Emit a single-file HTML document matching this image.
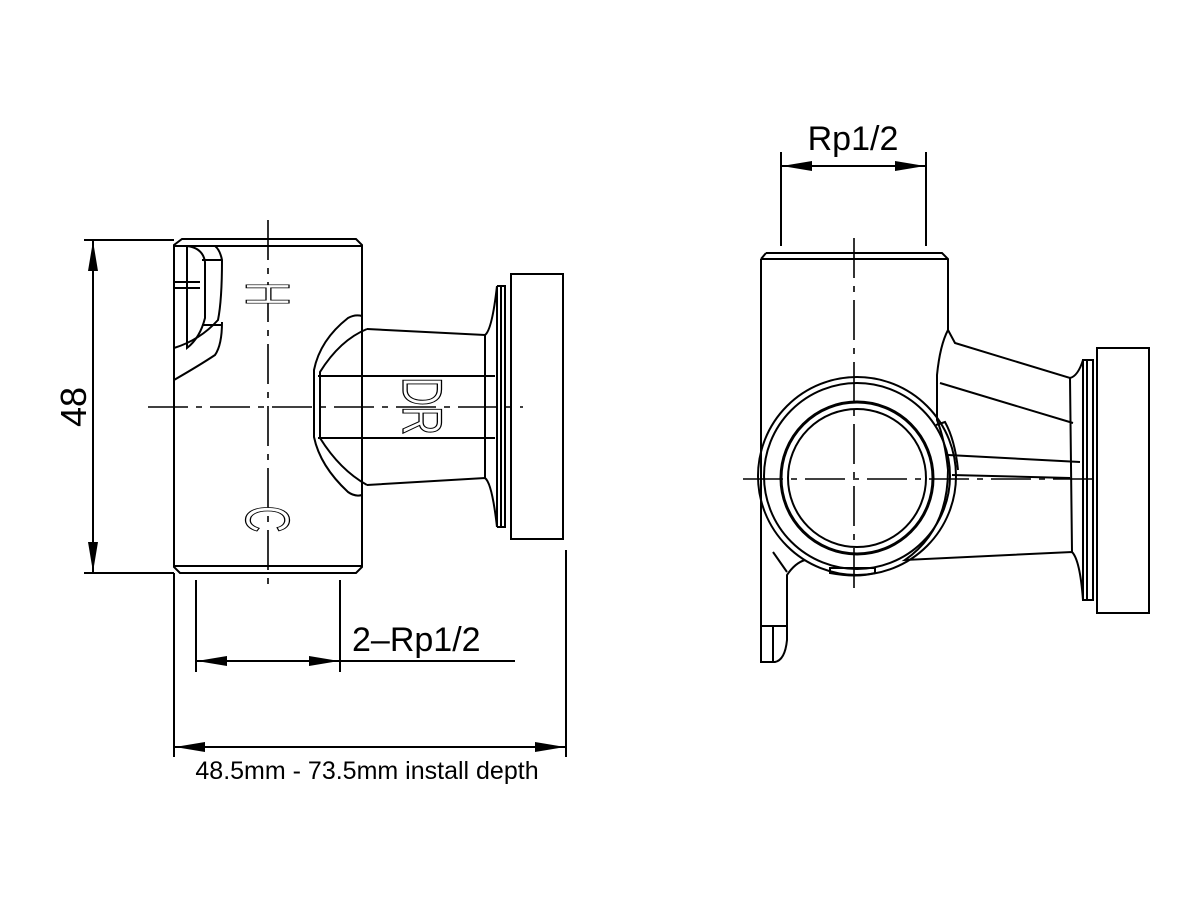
<!DOCTYPE html>
<html><head><style>body{margin:0;background:#fff}svg{display:block}</style></head><body>
<svg width="1200" height="900" viewBox="0 0 1200 900" xmlns="http://www.w3.org/2000/svg" fill="none" stroke="#000" stroke-width="2" font-family="Liberation Sans, sans-serif">
<defs>
<marker id="a" viewBox="0 0 30 10" refX="30" refY="5" markerWidth="30" markerHeight="10" markerUnits="userSpaceOnUse" orient="auto-start-reverse"><path d="M0,0 L30,5 L0,10z" fill="#000" stroke="none"/></marker>
</defs>
<!-- LEFT VIEW -->
<path d="M182,239 L356,239 L362,245 L362,567 L356,573 L180,573 L174,567 L174,245 Z"/>
<path d="M174,246 H362 M174,566 H362"/>
<path d="M187,246 V348 Q200,338 205,318 V262 Q203,248 187,246"/>
<path d="M174,348 Q200,340 218,320 Q222,300 222,260 Q220,250 215,246 M174,380 Q200,365 215,355 Q222,345 222,322 M202,260 H222 M202,325 H222 M174,282 H200 M174,288 H200"/>
<path d="M268,220 V592" stroke-dasharray="40,8,6,8" stroke-width="1.6"/>
<path d="M148,407 H523" stroke-dasharray="40,8,6,8" stroke-width="1.6"/>
<path d="M362,316 Q355,314 348,318 Q320,340 314,370 V437 Q320,466 348,492 Q355,497 362,495"/>
<path d="M367,329 Q340,340 320,372 V438 Q340,470 367,485"/>
<path d="M367,329 L485,335 Q492,330 497,286 M367,485 L485,478 Q492,483 497,527"/>
<path d="M485,335 V478 M318,376 H495 M318,438 H495"/>
<path d="M497,286 V527 M497,286 H505 V527 H497 M501,286 V527"/>
<rect x="511" y="274" width="52" height="265"/>
<g fill="#fff" stroke="#000" stroke-width="1.3" font-size="62" text-anchor="middle">
<text transform="translate(268,294) rotate(90) scale(0.53,1)" y="22">H</text>
<text transform="translate(268,519) rotate(90) scale(0.6,1)" y="22">C</text>
<text transform="translate(423,406) rotate(90) scale(0.72,1)" y="20" font-size="56">DR</text>
</g>
<path d="M84,240 H174 M84,573 H174"/>
<path d="M93,241 V572" marker-start="url(#a)" marker-end="url(#a)"/>
<text x="86" y="407" font-size="36" fill="#000" stroke="none" text-anchor="middle" transform="rotate(-90 86 407)">48</text>
<path d="M196,580 V672 M340,580 V672"/>
<path d="M197,661 H339" marker-start="url(#a)" marker-end="url(#a)"/>
<path d="M340,661 H515"/>
<text x="352" y="651" font-size="34" fill="#000" stroke="none">2–Rp1/2</text>
<path d="M174,573 V757 M566,550 V757"/>
<path d="M175,747 H565" marker-start="url(#a)" marker-end="url(#a)"/>
<text x="367" y="779" font-size="25" fill="#000" stroke="none" text-anchor="middle">48.5mm - 73.5mm install depth</text>

<!-- RIGHT VIEW -->
<path d="M766,253 L942,253 L948,259 V330 Q940,345 937,375 V420 Q945,440 948,470 Q948,530 905,560 L1072,552 Q1080,560 1083,600 M761,259 L766,253 M761,259 V555"/>
<path d="M761,259 H948"/>
<path d="M948,330 L955,343 L1070,378 Q1078,376 1083,360"/>
<path d="M940,383 L1073,423 M948,455 L1080,462 M952,475 L1070,478 M1070,378 L1072,552 M936,425 L945,422 Q955,440 958,470"/>
<path d="M1083,360 H1093 V600 H1083 Z M1087,360 V600"/>
<rect x="1097" y="348" width="52" height="265"/>
<circle cx="857" cy="476" r="99"/>
<circle cx="857" cy="476" r="93"/>
<circle cx="857" cy="478" r="76" stroke-width="3"/>
<circle cx="857" cy="478" r="69"/>
<path d="M830,573 Q857,578 875,573 V568 H830 Z"/>
<path d="M761,555 V662 H775 Q785,660 787,640 V575 Q795,563 805,560 M773,552 L787,572 M761,626 H787 M773,626 V662"/>
<path d="M854,238 V592" stroke-dasharray="40,8,6,8" stroke-width="1.6"/>
<path d="M743,479 H1100" stroke-dasharray="40,8,6,8" stroke-width="1.6"/>
<path d="M781,152 V246 M926,152 V246"/>
<path d="M782,166 H925" marker-start="url(#a)" marker-end="url(#a)"/>
<text x="853" y="150" font-size="34" fill="#000" stroke="none" text-anchor="middle">Rp1/2</text>
</svg>
</body></html>
